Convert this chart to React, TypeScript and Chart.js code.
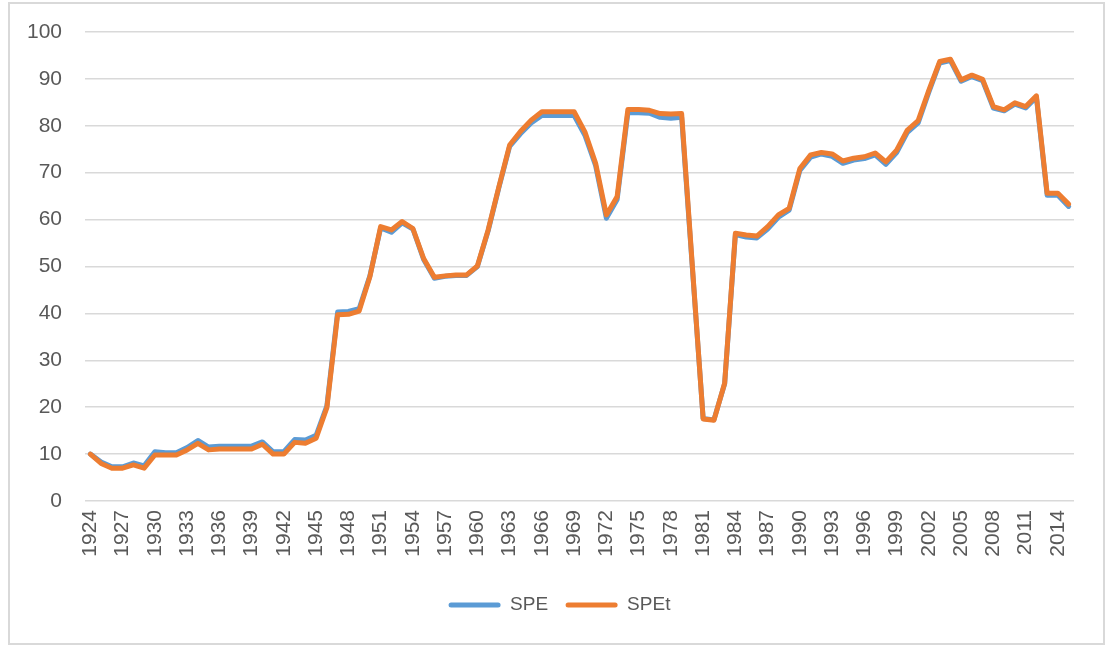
import React, { useEffect, useRef } from "react";
import { Chart, registerables } from "chart.js";

Chart.register(...registerables);

const years: string[] = [];
for (let y = 1924; y <= 2015; y++) years.push(String(y));

const speValues: number[] = [
  10.0, 8.3, 7.3, 7.3, 8.1, 7.5, 10.5, 10.3, 10.3, 11.4,
  12.9, 11.5, 11.7, 11.7, 11.7, 11.7, 12.6, 10.5, 10.5, 13.1,
  13.0, 14.0, 20.3, 40.3, 40.4, 41.0, 48.0, 58.2, 57.3, 59.3,
  58.0, 51.5, 47.5, 47.9, 48.1, 48.1, 50.0, 57.6, 66.8, 75.6,
  78.3, 80.6, 82.2, 82.2, 82.2, 82.2, 78.0, 71.5, 60.3, 64.3,
  82.8, 82.8, 82.7, 81.8, 81.6, 81.8, 49.6, 17.6, 17.3, 25.0,
  56.8, 56.3, 56.1, 58.0, 60.5, 62.0, 70.5, 73.3, 74.0, 73.5,
  72.0, 72.7, 73.0, 73.8, 71.8, 74.3, 78.6, 80.6, 87.2, 93.4,
  93.9, 89.5, 90.5, 89.6, 83.8, 83.2, 84.6, 83.8, 86.1, 65.2,
  65.2, 62.8,
];

const spetValues: number[] = [
  10.0, 8.0, 7.0, 7.0, 7.7, 7.0, 9.8, 9.8, 9.8, 10.9,
  12.3, 10.9, 11.1, 11.1, 11.1, 11.1, 12.1, 10.0, 10.0, 12.5,
  12.3, 13.4, 19.9, 39.7, 39.8, 40.5, 47.8, 58.5, 57.8, 59.6,
  58.1, 51.7, 47.7, 48.0, 48.2, 48.2, 50.1, 57.8, 67.0, 75.9,
  78.8, 81.2, 83.0, 83.0, 83.0, 83.0, 78.7, 72.0, 61.0, 64.9,
  83.5, 83.5, 83.3, 82.6, 82.5, 82.6, 50.0, 17.5, 17.2, 25.1,
  57.1, 56.7, 56.5, 58.5, 61.0, 62.4, 70.9, 73.8, 74.3, 74.0,
  72.5, 73.1, 73.4, 74.2, 72.3, 74.8, 79.1, 81.1, 87.6, 93.7,
  94.2, 89.8, 90.8, 89.9, 84.1, 83.4, 84.9, 84.1, 86.4, 65.6,
  65.6, 63.3,
];

const seriesNames = ["SPE", "SPEt"];
const seriesColors = ["#5B9BD5", "#ED7D31"];
const yTicks = { min: 0, max: 100, step: 10 };

const shiftLegend = {
  id: "shiftLegend",
  afterLayout(chart: any) {
    const l = chart.legend;
    if (l) {
      l.left += 17;
      l.right += 17;
    }
  },
};

export default function App() {
  const ref = useRef<HTMLCanvasElement | null>(null);

  useEffect(() => {
    if (!ref.current) return;
    const tickFont = { family: "'Liberation Sans', Arial, sans-serif", size: 21 };
    const chart = new Chart(ref.current, {
      type: "line",
      data: {
        labels: years,
        datasets: [
          {
            label: seriesNames[0],
            data: speValues,
            borderColor: seriesColors[0],
            backgroundColor: seriesColors[0],
            borderWidth: 5,
            pointRadius: 0,
            tension: 0,
            order: 2,
            borderJoinStyle: "round",
            borderCapStyle: "round",
          },
          {
            label: seriesNames[1],
            data: spetValues,
            borderColor: seriesColors[1],
            backgroundColor: seriesColors[1],
            borderWidth: 5,
            pointRadius: 0,
            tension: 0,
            order: 1,
            borderJoinStyle: "round",
            borderCapStyle: "round",
          },
        ],
      },
      plugins: [shiftLegend],
      options: {
        responsive: false,
        animation: false,
        devicePixelRatio: 1,
        layout: { padding: { top: 28, right: 28, bottom: 18.5, left: 0 } },
        plugins: {
          tooltip: { enabled: false },
          legend: {
            position: "bottom",
            labels: {
              color: "#595959",
              font: { family: "'Liberation Sans', Arial, sans-serif", size: 19 },
              boxWidth: 52,
              boxHeight: 5,
              padding: 17.5,
              useBorderRadius: true,
              borderRadius: 2.5,
              generateLabels: (c: any) =>
                Chart.defaults.plugins.legend.labels
                  .generateLabels(c)
                  .sort((a: any, b: any) => a.datasetIndex - b.datasetIndex)
                  .map((l: any) => ({ ...l, lineWidth: 0 })),
            },
          },
        },
        scales: {
          x: {
            offset: true,
            grid: { display: false, drawTicks: false },
            border: { display: false },
            ticks: {
              autoSkip: false,
              maxRotation: 90,
              minRotation: 90,
              padding: 9,
              color: "#595959",
              font: tickFont,
              callback: (_v: any, i: number) => (i % 3 === 0 ? years[i] : ""),
            },
            afterFit: (s: any) => {
              s.height = 77;
            },
          },
          y: {
            min: yTicks.min,
            max: yTicks.max,
            grid: {
              color: "#d9d9d9",
              lineWidth: 1.5,
              drawTicks: true,
              tickLength: 23,
              tickColor: "rgba(0,0,0,0)",
            },
            border: { display: false },
            ticks: {
              stepSize: yTicks.step,
              padding: 0,
              color: "#595959",
              font: tickFont,
            },
            afterFit: (s: any) => {
              s.width = 75;
            },
          },
        },
      },
    });
    return () => chart.destroy();
  }, []);

  return (
    <div
      style={{
        position: "absolute",
        left: 8,
        top: 2,
        width: 1097,
        height: 643,
        border: "2px solid #d9d9d9",
        boxSizing: "border-box",
        background: "#fff",
      }}
    >
      <canvas ref={ref} width={1093} height={639} style={{ display: "block" }} />
    </div>
  );
}
